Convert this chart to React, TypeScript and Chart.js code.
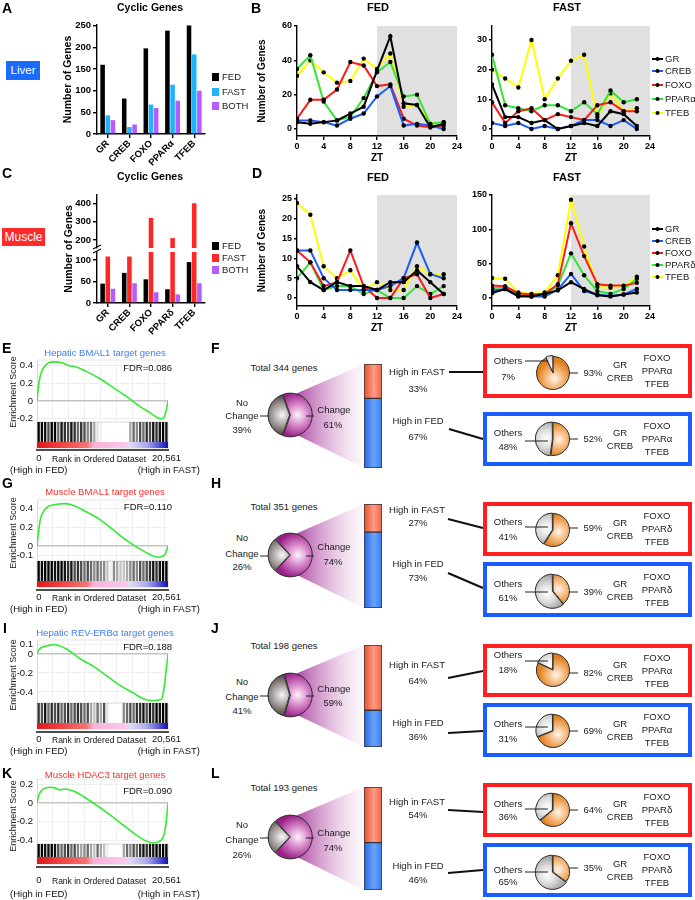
import React, { useEffect, useRef } from "react";
import { Chart, registerables } from "chart.js";

Chart.register(...registerables);
const FONT = "'Liberation Sans', Arial, Helvetica, sans-serif";
Chart.defaults.font.family = FONT;
Chart.defaults.color = "#000";

// ================= DATA =================
const liverFactors = ["GR", "CREB", "FOXO", "PPARα", "TFEB"];
const muscleFactors = ["GR", "CREB", "FOXO", "PPARδ", "TFEB"];
const conditionNames = ["FED", "FAST", "BOTH"];

const liverCyclicFED = [160, 82, 198, 239, 251];
const liverCyclicFAST = [43, 16, 68, 114, 184];
const liverCyclicBOTH = [32, 22, 60, 77, 100];
const muscleCyclicFED = [45, 70, 55, 32, 95];
const muscleCyclicFAST = [108, 108, 320, 210, 400];
const muscleCyclicBOTH = [33, 46, 25, 20, 46];
const liverCyclicTicks = [0, 50, 100, 150, 200, 250];
const muscleCyclicTicksLow = [0, 50, 100];
const muscleCyclicTicksHigh = [200, 300, 400];

const ztHours = [0, 2, 4, 6, 8, 10, 12, 14, 16, 18, 20, 22];
const ztTicks = [0, 4, 8, 12, 16, 20, 24];

const liverFedGR = [4, 3, 4, 5, 9, 13, 34, 54, 15, 14, 1, 3];
const liverFedCREB = [5, 5, 4, 2, 6, 9, 19, 25, 2, 3, 2, 0];
const liverFedFOXO = [6, 17, 17, 23, 39, 37, 25, 26, 6, 2, 1, 2];
const liverFedPPARa = [35, 43, 16, 5, 7, 18, 33, 39, 19, 20, 3, 4];
const liverFedTFEB = [31, 40, 33, 27, 28, 41, 35, 44, 13, 14, 3, 4];
const liverFedTicks = [0, 20, 40, 60];

const liverFastGR = [15, 4, 4, 2, 3, 0, 1, 2, 1, 6, 5, 1];
const liverFastCREB = [2, 1, 2, 0, 1, 0, 1, 3, 3, 1, 3, 0];
const liverFastFOXO = [9, 2, 6, 7, 3, 5, 4, 3, 8, 9, 6, 6];
const liverFastPPARa = [25, 8, 7, 6, 8, 8, 6, 9, 5, 13, 9, 10];
const liverFastTFEB = [20, 17, 14, 30, 10, 17, 23, 25, 4, 12, 6, 7];
const liverFastTicks = [0, 10, 20, 30];

const muscleFedGR = [8, 4, 2, 4, 3, 3, 2, 4, 4, 7, 4, 1];
const muscleFedCREB = [12, 12, 5, 2, 2, 2, 2, 3, 5, 14, 6, 5];
const muscleFedFOXO = [12, 9, 3, 4, 12, 3, 0, 0, 5, 6, 0, 1];
const muscleFedPPARd = [5, 9, 2, 3, 3, 1, 2, 0, 0, 3, 1, 3];
const muscleFedTFEB = [24, 21, 8, 5, 7, 2, 4, 2, 2, 8, 6, 6];
const muscleFedTicks = [0, 5, 10, 15, 20, 25];

const muscleFastGR = [7, 13, 3, 2, 6, 11, 23, 13, 4, 2, 5, 8];
const muscleFastCREB = [11, 13, 2, 2, 2, 12, 35, 10, 5, 3, 5, 13];
const muscleFastFOXO = [18, 17, 7, 5, 6, 20, 109, 61, 20, 18, 18, 22];
const muscleFastPPARd = [14, 16, 5, 4, 4, 18, 65, 33, 10, 6, 13, 28];
const muscleFastTFEB = [29, 28, 8, 6, 8, 33, 143, 75, 16, 15, 17, 31];
const muscleFastTicks = [0, 50, 100, 150];

const gseaTitles = ["Hepatic BMAL1 target genes", "Muscle BMAL1 target genes", "Hepatic REV-ERBα target genes", "Muscle HDAC3 target genes"];
const gseaFDR = ["FDR=0.086", "FDR=0.110", "FDR=0.188", "FDR=0.090"];
const gseaRankMax = 20561;
const gseaGridRanks = [2500, 5000, 7500, 10000, 12500, 15000, 17500, 20000];

const gseaRanksE = [0, 156, 416, 781, 1301, 1822, 2603, 3904, 4945, 6246, 7808, 9890, 11972, 14054, 16136, 17698, 18999, 19520, 19936, 20301, 20561];
const gseaScoresE = [0, 0.12, 0.25, 0.34, 0.4, 0.43, 0.44, 0.43, 0.4, 0.38, 0.33, 0.25, 0.15, 0.05, -0.06, -0.13, -0.19, -0.2, -0.18, -0.1, 0];
const gseaRanksG = [0, 156, 520, 1041, 1822, 2863, 4424, 5725, 7808, 9890, 11972, 14054, 16136, 17698, 18999, 19676, 20144, 20561];
const gseaScoresG = [0, 0.1, 0.28, 0.37, 0.42, 0.44, 0.45, 0.43, 0.36, 0.28, 0.17, 0.06, -0.03, -0.09, -0.12, -0.11, -0.08, 0];
const gseaRanksI = [0, 260, 781, 1822, 2603, 3383, 4685, 6767, 8849, 10931, 13013, 15095, 16656, 18218, 19520, 19884, 20196, 20561];
const gseaScoresI = [0, 0.04, 0.07, 0.09, 0.1, 0.09, 0.05, -0.05, -0.13, -0.23, -0.33, -0.41, -0.47, -0.49, -0.48, -0.38, -0.22, 0];
const gseaRanksK = [0, 260, 781, 2082, 2863, 3644, 4164, 5726, 7287, 8849, 10931, 13013, 15095, 17177, 18218, 19259, 19780, 20196, 20561];
const gseaScoresK = [0, 0.08, 0.14, 0.17, 0.16, 0.14, 0.15, 0.13, 0.07, 0, -0.1, -0.21, -0.32, -0.41, -0.43, -0.41, -0.37, -0.25, 0];
const gseaTicksE = [0.4, 0.2, 0, -0.2];
const gseaTicksG = [0.4, 0.2, 0, -0.1];
const gseaTicksI = [0.1, 0, -0.2, -0.4];
const gseaTicksK = [0.2, 0, -0.2, -0.4];

// hit density of the barcode, 40 rank bins each
const barcodeE = [0.9, 0.85, 0.8, 0.6, 0.9, 0.85, 0.5, 0.8, 0.7, 0.6, 0.8, 0.7, 0.5, 0.7, 0.6, 0.4, 0.5, 0.3, 0.1, 0.05, 0, 0, 0, 0, 0, 0, 0, 0, 0.3, 0.5, 0.4, 0.6, 0.5, 0.7, 0.6, 0.8, 0.7, 0.8, 0.9, 0.8];
const barcodeG = [0.95, 0.9, 0.9, 0.85, 0.9, 0.8, 0.85, 0.9, 0.8, 0.7, 0.8, 0.6, 0.7, 0.6, 0.5, 0.6, 0.5, 0.4, 0.5, 0.4, 0.4, 0.2, 0.05, 0.4, 0.3, 0.2, 0.2, 0.3, 0.4, 0.5, 0.4, 0.6, 0.5, 0.6, 0.7, 0.8, 0.7, 0.8, 0.9, 0.9];
const barcodeI = [0.7, 0.6, 0.8, 0.5, 0.7, 0.6, 0.7, 0.5, 0.6, 0.7, 0.5, 0.6, 0.7, 0.6, 0.5, 0.6, 0.3, 0.2, 0.5, 0.3, 0.6, 0.1, 0, 0, 0, 0, 0.4, 0.5, 0.6, 0.5, 0.7, 0.7, 0.8, 0.6, 0.8, 0.7, 0.9, 0.8, 0.9, 1];
const barcodeK = [0.9, 0.9, 0.8, 0.8, 0.9, 0.8, 0.6, 0.5, 0.6, 0.7, 0.5, 0.6, 0.4, 0.3, 0.4, 0.5, 0.3, 0.2, 0.5, 0.3, 0.2, 0.05, 0, 0, 0, 0, 0.3, 0.5, 0.4, 0.6, 0.5, 0.7, 0.8, 0.7, 0.8, 0.8, 0.9, 0.8, 0.9, 1];

const summaryTotals = [344, 351, 198, 193];
const summaryChangePct = [61, 74, 59, 74];
const summaryNoChangePct = [39, 26, 41, 26];
const summaryHighFastPct = [33, 27, 64, 54];
const summaryHighFedPct = [67, 73, 36, 46];
const summaryFastTargetPct = [93, 59, 82, 64];
const summaryFastOthersPct = [7, 41, 18, 36];
const summaryFedTargetPct = [52, 39, 69, 35];
const summaryFedOthersPct = [48, 61, 31, 65];
const summaryFactorSets = [["FOXO", "PPARα", "TFEB"], ["FOXO", "PPARδ", "TFEB"], ["FOXO", "PPARα", "TFEB"], ["FOXO", "PPARδ", "TFEB"]];
const summaryCommonFactors = ["GR", "CREB"];

// ================= STYLE / LAYOUT =================
const seriesColors = ["#000000", "#1a5cff", "#ff1a1a", "#33e633", "#ffff00"];
const fedColor = "#000000";
const liverFastColor = "#1eb2ff";
const muscleFastColor = "#ff2626";
const bothColor = "#b65cff";
const blueTitle = "#3b7cff";
const redTitle = "#ff2b2b";
const gseaGradient = "linear-gradient(to right, #e01818 0%, #ee4242 18%, #f47474 38%, #f8b2d8 43%, #f8c8ea 67%, #dedcf6 71%, #aaaaea 84%, #5656d6 93%, #1010b0 100%)";

const changeStops = [[0, "#fff3fb"], [0.45, "#d98ccc"], [1, "#9a1e88"]];
const noChangeStops = [[0, "#f6f6f6"], [0.5, "#9c9492"], [1, "#3a302e"]];
const orangeStops = [[0, "#fff6ec"], [0.45, "#f6be86"], [1, "#e0801e"]];
const othersStops = [[0, "#ffffff"], [0.5, "#dedede"], [1, "#a8a8a8"]];
const redBarStops = [[0, "#e2502e"], [0.55, "#ff9c84"], [1, "#f06448"]];
const blueBarStops = [[0, "#2566e0"], [0.55, "#6aa4ff"], [1, "#3a7af0"]];

const gseaLayout = [
  { titleY: 353, titleC: blueTitle, fdrY: 368, top: 360, bot: 422, barBot: 442, gradBot: 448, axisY: 450, labY: 458, highY: 470, esY: 392, min: -0.236, max: 0.461 },
  { titleY: 492, titleC: redTitle, fdrY: 507, top: 500, bot: 561, barBot: 581, gradBot: 587, axisY: 590, labY: 597, highY: 609, esY: 533, min: -0.159, max: 0.488 },
  { titleY: 633, titleC: blueTitle, fdrY: 647, top: 640, bot: 703, barBot: 723, gradBot: 729, axisY: 732, labY: 739, highY: 751, esY: 675, min: -0.516, max: 0.147 },
  { titleY: 775, titleC: redTitle, fdrY: 791, top: 779, bot: 844, barBot: 857, gradBot: 864, axisY: 867, labY: 880, highY: 894, esY: 816, min: -0.441, max: 0.258 },
];
const gseaSeries = [
  { ranks: gseaRanksE, es: gseaScoresE, ticks: gseaTicksE, bars: barcodeE },
  { ranks: gseaRanksG, es: gseaScoresG, ticks: gseaTicksG, bars: barcodeG },
  { ranks: gseaRanksI, es: gseaScoresI, ticks: gseaTicksI, bars: barcodeI },
  { ranks: gseaRanksK, es: gseaScoresK, ticks: gseaTicksK, bars: barcodeK },
];

const rowLayout = [
  { total: 368, pie: 415, nc: [403, 416, 430], ch: [410, 425], bar: [364, 468], fastT: [372, 389], fedT: [421, 437], fastLine: [449, 372, 483, 372], fedLine: [449, 429, 483, 439], red: [344, 398], blue: [412, 466], rPie: 373, bPie: 439, rOthers: [361, 377], bOthers: [433, 447], rOthLine: 361, bOthLine: 441, rPct: 373, bPct: 439 },
  { total: 507, pie: 555, nc: [538, 554, 567], ch: [547, 562], bar: [504, 608], fastT: [510, 523], fedT: [564, 578], fastLine: [448, 519, 483, 528], fedLine: [448, 573, 483, 588], red: [502, 556], blue: [562, 617], rPie: 530, bPie: 591, rOthers: [522, 537], bOthers: [584, 598], rOthLine: 527, bOthLine: 592, rPct: 528, bPct: 592 },
  { total: 646, pie: 695, nc: [682, 697, 711], ch: [689, 703], bar: [645, 747], fastT: [665, 681], fedT: [723, 737], fastLine: [448, 678, 483, 671], fedLine: [448, 733, 483, 731], red: [644, 697], blue: [703, 757], rPie: 670, bPie: 731, rOthers: [655, 670], bOthers: [724, 739], rOthLine: 661, bOthLine: 727, rPct: 673, bPct: 731 },
  { total: 788, pie: 837, nc: [825, 840, 855], ch: [833, 848], bar: [787, 890], fastT: [802, 815], fedT: [866, 880], fastLine: [448, 810, 483, 812], fedLine: [448, 873, 483, 870], red: [783, 837], blue: [843, 897], rPie: 810, bPie: 872, rOthers: [804, 817], bOthers: [870, 882], rOthLine: 809, bOthLine: 872, rPct: 810, bPct: 868 },
];

// ================= HELPERS =================
type Rect = { l: number; t: number; w: number; h: number };
type Area = { l: number; t: number; r: number; b: number };

const fixedTicks = (vals: number[]) => (s: any) => { s.ticks = vals.map((v) => ({ value: v })); };
const fixW = (w: number) => (s: any) => { s.width = w; s.paddingTop = 0; s.paddingBottom = 0; };
const fixH = (h: number) => (s: any) => { s.height = h; s.paddingLeft = 0; s.paddingRight = 0; };

const prismGrid = { drawOnChartArea: false, drawTicks: true, tickLength: 4, color: "#000", lineWidth: 1.4 };
const prismBorder = { display: true, color: "#000", width: 1.4 };

function baseOpts(rect: Rect, area: Area, shownX: boolean, shownY: boolean) {
  return {
    responsive: false,
    maintainAspectRatio: false,
    animation: false,
    devicePixelRatio: 1,
    events: [],
    layout: {
      autoPadding: false,
      padding: {
        left: shownY ? 0 : area.l - rect.l,
        top: area.t - rect.t,
        right: rect.l + rect.w - area.r,
        bottom: shownX ? 0 : rect.t + rect.h - area.b,
      },
    },
    plugins: { legend: { display: false }, tooltip: { enabled: false } },
  };
}

const nightShade = {
  id: "nightShade",
  beforeDraw(chart: any, _a: any, opts: any) {
    if (!opts || opts.from == null) return;
    const { ctx, chartArea, scales } = chart;
    const x0 = scales.x.getPixelForValue(opts.from);
    const x1 = scales.x.getPixelForValue(opts.to);
    ctx.save();
    ctx.fillStyle = opts.color;
    ctx.fillRect(x0, chartArea.top, x1 - x0, chartArea.bottom - chartArea.top);
    ctx.restore();
  },
};

function ChartCanvas({ rect, make }: { rect: Rect; make: () => any }) {
  const ref = useRef<HTMLCanvasElement>(null);
  useEffect(() => {
    const c = new Chart(ref.current as HTMLCanvasElement, make());
    return () => c.destroy();
  }, []);
  return <canvas ref={ref} width={rect.w} height={rect.h} style={{ position: "absolute", left: rect.l, top: rect.t, width: rect.w, height: rect.h }} />;
}

function cyclicBars(p: any) {
  const x: any = {
    display: p.showX,
    grid: { ...prismGrid, offset: false },
    border: prismBorder,
    ticks: { minRotation: 45, maxRotation: 45, autoSkip: false, font: { size: 9.5, weight: "bold" }, padding: 0, color: "#000" },
  };
  if (p.showX) x.afterFit = fixH(p.rect.t + p.rect.h - p.area.b);
  return () => ({
    type: "bar",
    data: {
      labels: p.labels,
      datasets: [
        { label: conditionNames[0], data: p.fed, backgroundColor: fedColor },
        { label: conditionNames[1], data: p.fast, backgroundColor: p.fastColor },
        { label: conditionNames[2], data: p.both, backgroundColor: bothColor },
      ],
    },
    options: {
      ...baseOpts(p.rect, p.area, p.showX, true),
      datasets: { bar: { categoryPercentage: 0.72, barPercentage: 0.88, clip: 0 } },
      scales: {
        x,
        y: {
          min: p.min, max: p.max,
          afterBuildTicks: fixedTicks(p.ticks),
          afterFit: fixW(p.area.l - p.rect.l),
          grid: prismGrid, border: prismBorder,
          ticks: { font: { size: 9.5, weight: "bold" }, padding: 2, color: "#000" },
          title: { display: p.yTitle, text: "Number of Genes", color: "#000", font: { size: 10.5, weight: "bold" }, padding: { top: 21.5, bottom: 0 } },
        },
      },
    },
  });
}

function ztLines(p: any) {
  return () => ({
    type: "line",
    data: {
      datasets: p.series.map((s: number[], k: number) => ({
        label: p.names[k],
        data: ztHours.map((z, i) => ({ x: z, y: s[i] })),
        borderColor: seriesColors[k], borderWidth: 2,
        pointRadius: 2.2, pointBackgroundColor: "#000", pointBorderWidth: 0, tension: 0,
      })),
    },
    options: {
      ...baseOpts(p.rect, p.area, true, true),
      plugins: { legend: { display: false }, tooltip: { enabled: false }, nightShade: { from: 12, to: 24, color: "#e0e0e0" } },
      scales: {
        x: {
          type: "linear", min: 0, max: 24,
          afterBuildTicks: fixedTicks(ztTicks),
          afterFit: fixH(p.rect.t + p.rect.h - p.area.b),
          grid: prismGrid, border: prismBorder,
          ticks: { font: { size: 9, weight: "bold" }, padding: 1, color: "#000" },
          title: { display: true, text: "ZT", color: "#000", font: { size: 10, weight: "bold" }, padding: { top: 0, bottom: 1 } },
        },
        y: {
          min: p.min, max: p.max,
          afterBuildTicks: fixedTicks(p.ticks),
          afterFit: fixW(p.area.l - p.rect.l),
          grid: { ...prismGrid, tickLength: 3 }, border: prismBorder,
          ticks: { font: { size: 9, weight: "bold" }, padding: 2, color: "#000" },
          title: { display: p.yTitle, text: "Number of Genes", color: "#000", font: { size: 10, weight: "bold" }, padding: { top: 16, bottom: 0 } },
        },
      },
    },
    plugins: [nightShade],
  });
}

function gseaCurve(rect: Rect, area: Area, ranks: number[], es: number[], min: number, max: number, ticks: number[]) {
  return () => ({
    type: "line",
    data: { datasets: [{ label: "Enrichment Score", data: ranks.map((r, k) => ({ x: r, y: es[k] })), borderColor: "#35ea35", borderWidth: 1.6, pointRadius: 0, cubicInterpolationMode: "monotone", fill: false }] },
    options: {
      ...baseOpts(rect, area, true, true),
      scales: {
        x: {
          type: "linear", min: 0, max: gseaRankMax,
          afterBuildTicks: fixedTicks(gseaGridRanks),
          afterFit: fixH(rect.t + rect.h - area.b),
          ticks: { display: false },
          border: { display: false },
          grid: { color: "#f0f0f0", drawTicks: false, lineWidth: 1 },
        },
        y: {
          min, max,
          afterBuildTicks: fixedTicks(ticks),
          afterFit: fixW(area.l - rect.l),
          border: { display: true, color: "#dadada", width: 1 },
          grid: { drawTicks: false, color: (c: any) => (c.tick && c.tick.value === 0 ? "#c4c4c4" : "#eeeeee"), lineWidth: (c: any) => (c.tick && c.tick.value === 0 ? 1.4 : 1) },
          ticks: { font: { size: 9.5 }, padding: 4, color: "#111", callback: (v: any) => String(v) },
        },
      },
    },
  });
}

function barcodeChart(rect: Rect, area: Area, density: number[]) {
  return () => ({
    type: "bar",
    data: {
      labels: density.map((_, i) => String(i)),
      datasets: [{ label: "hits", data: density.map(() => [0, 1]), backgroundColor: density.map((d) => `rgba(0,0,0,${Math.min(1, d * 1.15)})`), barPercentage: 0.72, categoryPercentage: 1, clip: 0 }],
    },
    options: { ...baseOpts(rect, area, false, false), scales: { x: { display: false }, y: { display: false, min: 0, max: 1 } } },
  });
}

function radialFill(stopsList: any[], values: number[], rotation: number, radius: number) {
  return (ctx: any) => {
    const i = ctx.dataIndex;
    const stops = stopsList[i];
    const chart = ctx.chart;
    const a = chart.chartArea;
    if (!a) return stops[stops.length - 1][1];
    const cx = (a.left + a.right) / 2, cy = (a.top + a.bottom) / 2;
    const total = values.reduce((s, v) => s + v, 0);
    let start = rotation;
    for (let j = 0; j < i; j++) start += (values[j] / total) * 360;
    const mid = ((start + (values[i] / total) * 180 - 90) * Math.PI) / 180;
    const gx = cx + Math.cos(mid) * radius * 0.35, gy = cy + Math.sin(mid) * radius * 0.35;
    const g = chart.ctx.createRadialGradient(gx, gy, 0, gx, gy, radius * 1.05);
    stops.forEach((s: any) => g.addColorStop(s[0], s[1]));
    return g;
  };
}

function pieChart(values: number[], labels: string[], stops: any[], rotation: number, radius: number, offsets: number[]) {
  return () => ({
    type: "pie",
    data: { labels, datasets: [{ data: values, backgroundColor: radialFill(stops, values, rotation, radius), borderColor: "#2b2b2b", borderWidth: 1, offset: offsets, rotation, radius }] },
    options: {
      responsive: false, animation: false, devicePixelRatio: 1, events: [], rotation, radius,
      layout: { autoPadding: false, padding: 0 },
      plugins: { legend: { display: false }, tooltip: { enabled: false } },
    },
  });
}

function linFill(stops: any[]) {
  return (ctx: any) => {
    const chart = ctx.chart;
    const a = chart.chartArea;
    if (!a) return stops[0][1];
    const g = chart.ctx.createLinearGradient(a.left, 0, a.right, 0);
    stops.forEach((s: any) => g.addColorStop(s[0], s[1]));
    return g;
  };
}

function splitBar(rect: Rect, area: Area, fed: number, fast: number) {
  return () => ({
    type: "bar",
    data: {
      labels: ["genes"],
      datasets: [
        { label: "High in FED", data: [fed], backgroundColor: linFill(blueBarStops) },
        { label: "High in FAST", data: [fast], backgroundColor: linFill(redBarStops) },
      ],
    },
    options: {
      ...baseOpts(rect, area, false, false),
      datasets: { bar: { barPercentage: 1, categoryPercentage: 1, borderWidth: 1, borderColor: "#333", borderSkipped: false, clip: 0 } },
      scales: { x: { display: false, stacked: true }, y: { display: false, stacked: true, min: 0, max: 100 } },
    },
  });
}

const T = ({ x, y, s = 9.5, b = false, c = "#1a1a1a", a = "l", children }: any) => {
  const tx = a === "c" ? "-50%" : a === "r" ? "-100%" : "0";
  return (
    <div style={{ position: "absolute", left: x, top: y, transform: `translate(${tx}, -50%)`, fontSize: s, fontWeight: b ? 700 : 400, color: c, whiteSpace: "nowrap", lineHeight: 1 }}>
      {children}
    </div>
  );
};

const VT = ({ x, y, s = 9, b = false, c = "#222", children }: any) => (
  <div style={{ position: "absolute", left: x, top: y, transform: "translate(-50%, -50%) rotate(-90deg)", fontSize: s, fontWeight: b ? 700 : 400, whiteSpace: "nowrap", lineHeight: 1, color: c }}>
    {children}
  </div>
);

// ================= PANELS =================
function LegendSquares({ y, fastColor }: { y: number[]; fastColor: string }) {
  const cols = [fedColor, fastColor, bothColor];
  return (
    <>
      {conditionNames.map((n, i) => (
        <React.Fragment key={n}>
          <div style={{ position: "absolute", left: 212, top: y[i] - 4, width: 7, height: 8, background: cols[i] }} />
          <T x={222} y={y[i]}>{n}</T>
        </React.Fragment>
      ))}
    </>
  );
}

function GseaPanel({ i }: { i: number }) {
  const G = gseaLayout[i];
  const S = gseaSeries[i];
  const cRect = { l: 0, t: G.top - 8, w: 175, h: G.bot - G.top + 10 };
  const cArea = { l: 37, t: G.top, r: 168, b: G.bot };
  const bRect = { l: 30, t: G.bot, w: 145, h: G.barBot - G.bot };
  const bArea = { l: 37, t: G.bot, r: 168, b: G.barBot };
  return (
    <>
      <ChartCanvas rect={cRect} make={gseaCurve(cRect, cArea, S.ranks, S.es, G.min, G.max, S.ticks)} />
      <ChartCanvas rect={bRect} make={barcodeChart(bRect, bArea, S.bars)} />
      <div style={{ position: "absolute", left: 37, top: G.barBot, width: 131, height: G.gradBot - G.barBot, background: gseaGradient }} />
      <VT x={13} y={G.esY} s={9}>Enrichment Score</VT>
      <T x={105} y={G.titleY} a="c" c={G.titleC}>{gseaTitles[i]}</T>
      <T x={172} y={G.fdrY} a="r" c="#111">{gseaFDR[i]}</T>
      <T x={39} y={G.labY} a="c" c="#111">0</T>
      <T x={52} y={G.labY + 0.5} s={8.5} c="#111">Rank in Ordered Dataset</T>
      <T x={152} y={G.labY} c="#111">20,561</T>
      <T x={10} y={G.highY} c="#111">(High in FED)</T>
      <T x={200} y={G.highY} a="r" c="#111">(High in FAST)</T>
    </>
  );
}

function SummaryRow({ i }: { i: number }) {
  const L = rowLayout[i];
  const change = summaryChangePct[i], noChange = summaryNoChangePct[i];
  const bigVals = [change, noChange];
  const bigRot = 90 - (change / (change + noChange)) * 180;
  const fastVals = [summaryFastTargetPct[i], summaryFastOthersPct[i]];
  const fedVals = [summaryFedTargetPct[i], summaryFedOthersPct[i]];
  const barRect = { l: 362, t: L.bar[0] - 2, w: 22, h: L.bar[1] - L.bar[0] + 4 };
  const barArea = { l: 364, t: L.bar[0], r: 382, b: L.bar[1] };
  const rM = (L.red[0] + L.red[1]) / 2;
  const bM = (L.blue[0] + L.blue[1]) / 2;
  const factors = summaryFactorSets[i];
  const boxContent = (M: number, oth: number[], othPct: number, pctY: number, pct: number) => (
    <>
      <T x={508} y={oth[0]} a="c">Others</T>
      <T x={508} y={oth[1]} a="c">{othPct}%</T>
      <T x={593} y={pctY} a="c">{pct}%</T>
      <T x={620} y={M - 6} a="c">{summaryCommonFactors[0]}</T>
      <T x={620} y={M + 7} a="c">{summaryCommonFactors[1]}</T>
      <T x={657} y={M - 13} a="c">{factors[0]}</T>
      <T x={657} y={M} a="c">{factors[1]}</T>
      <T x={657} y={M + 13} a="c">{factors[2]}</T>
    </>
  );
  return (
    <>
      <ChartCanvas rect={{ l: 260, t: L.pie - 30, w: 60, h: 60 }} make={pieChart(bigVals, ["Change", "No Change"], [changeStops, noChangeStops], bigRot, 21.5, [1.5, 1.5])} />
      <ChartCanvas rect={barRect} make={splitBar(barRect, barArea, summaryHighFedPct[i], summaryHighFastPct[i])} />
      <ChartCanvas rect={{ l: 528, t: L.rPie - 25, w: 50, h: 50 }} make={pieChart(fastVals, ["Target", "Others"], [orangeStops, othersStops], 0, 16.5, [0, 2.5])} />
      <ChartCanvas rect={{ l: 528, t: L.bPie - 25, w: 50, h: 50 }} make={pieChart(fedVals, ["Target", "Others"], [orangeStops, othersStops], 0, 16.5, [0, 2.5])} />
      <div style={{ position: "absolute", left: 483, top: L.red[0], width: 209, height: L.red[1] - L.red[0], border: "4px solid #ff1f1f", boxSizing: "border-box" }} />
      <div style={{ position: "absolute", left: 483, top: L.blue[0], width: 209, height: L.blue[1] - L.blue[0], border: "4px solid #1a5cff", boxSizing: "border-box" }} />
      <T x={284} y={L.total} a="c">Total {summaryTotals[i]} genes</T>
      <T x={242} y={L.nc[0]} a="c">No</T>
      <T x={242} y={L.nc[1]} a="c">Change</T>
      <T x={242} y={L.nc[2]} a="c">{noChange}%</T>
      <T x={334} y={L.ch[0]} a="c">Change</T>
      <T x={333} y={L.ch[1]} a="c">{change}%</T>
      <T x={417} y={L.fastT[0]} a="c">High in FAST</T>
      <T x={418} y={L.fastT[1]} a="c">{summaryHighFastPct[i]}%</T>
      <T x={418} y={L.fedT[0]} a="c">High in FED</T>
      <T x={418} y={L.fedT[1]} a="c">{summaryHighFedPct[i]}%</T>
      {boxContent(rM, L.rOthers, summaryFastOthersPct[i], L.rPct, summaryFastTargetPct[i])}
      {boxContent(bM, L.bOthers, summaryFedOthersPct[i], L.bPct, summaryFedTargetPct[i])}
    </>
  );
}

function Overlay() {
  const legendRows = (ys: number[]) =>
    ys.map((y, k) => (
      <g key={k}>
        <line x1={652} x2={663} y1={y} y2={y} stroke={seriesColors[k]} strokeWidth={2} />
        <circle cx={657.5} cy={y} r={2} fill="#000" />
      </g>
    ));
  return (
    <svg width={695} height={900} style={{ position: "absolute", left: 0, top: 0 }}>
      <defs>
        <linearGradient id="fan" x1="0" x2="1" y1="0" y2="0">
          <stop offset="0" stopColor="#a4309a" stopOpacity="0.95" />
          <stop offset="0.5" stopColor="#c67cbe" stopOpacity="0.55" />
          <stop offset="1" stopColor="#ead0e6" stopOpacity="0.15" />
        </linearGradient>
      </defs>
      {rowLayout.map((L, i) => (
        <g key={i}>
          <polygon points={`293,${L.pie - 20} 364,${L.bar[0]} 364,${L.bar[1]} 295,${L.pie + 19}`} fill="url(#fan)" />
          <line x1={L.fastLine[0]} y1={L.fastLine[1]} x2={L.fastLine[2]} y2={L.fastLine[3]} stroke="#111" strokeWidth={2.2} />
          <line x1={L.fedLine[0]} y1={L.fedLine[1]} x2={L.fedLine[2]} y2={L.fedLine[3]} stroke="#111" strokeWidth={2.2} />
        </g>
      ))}
      {legendRows([59, 71, 85, 99, 113])}
      {legendRows([229, 241, 253, 265, 277])}
      <line x1={93} y1={249} x2={101} y2={245} stroke="#000" strokeWidth={1.2} />
      <line x1={93} y1={253} x2={101} y2={249} stroke="#000" strokeWidth={1.2} />
      {gseaLayout.map((G, i) => (
        <g key={i}>
          <rect x={37} y={G.bot} width={131} height={G.gradBot - G.bot} fill="none" stroke="#d0d0d0" strokeWidth={0.8} />
          <line x1={37} x2={168} y1={G.top} y2={G.top} stroke="#e0e0e0" strokeWidth={0.8} />
          <line x1={36} x2={169} y1={G.axisY} y2={G.axisY} stroke="#111" strokeWidth={1.6} />
        </g>
      ))}
    </svg>
  );
}

function OverlayTicks() {
  return (
    <svg width={695} height={900} style={{ position: "absolute", left: 0, top: 0 }}>
      {rowLayout.map((L, i) => (
        <g key={i} stroke="#222" strokeWidth={1}>
          <line x1={260} x2={269} y1={L.pie + 1} y2={L.pie + 1} />
          <line x1={306} x2={314} y1={L.pie + 1} y2={L.pie + 1} />
          <line x1={525} x2={548} y1={L.rOthLine} y2={L.rOthLine} />
          <line x1={525} x2={548} y1={L.bOthLine} y2={L.bOthLine} />
          <line x1={569} x2={578} y1={L.rPct} y2={L.rPct} />
          <line x1={569} x2={578} y1={L.bPct} y2={L.bPct} />
        </g>
      ))}
    </svg>
  );
}

export default function App() {
  useEffect(() => {
    document.body.style.margin = "0";
  }, []);

  const aRect = { l: 40, t: 15, w: 175, h: 160 }, aArea = { l: 97, t: 25, r: 205, b: 134 };
  const cTopRect = { l: 40, t: 185, w: 175, h: 65 }, cTopArea = { l: 97, t: 195, r: 205, b: 248 };
  const cLowRect = { l: 40, t: 245, w: 175, h: 95 }, cLowArea = { l: 97, t: 252, r: 205, b: 303 };
  const bFedRect = { l: 240, t: 15, w: 225, h: 150 }, bFedArea = { l: 297, t: 26, r: 457, b: 136 };
  const bFastRect = { l: 465, t: 15, w: 195, h: 150 }, bFastArea = { l: 492, t: 26, r: 650, b: 136 };
  const dFedRect = { l: 240, t: 185, w: 225, h: 150 }, dFedArea = { l: 297, t: 195, r: 457, b: 306 };
  const dFastRect = { l: 465, t: 185, w: 195, h: 150 }, dFastArea = { l: 492, t: 195, r: 650, b: 306 };

  return (
    <div style={{ position: "absolute", left: 0, top: 0, width: 695, height: 900, background: "#fff", overflow: "hidden", fontFamily: FONT }}>
      <Overlay />

      {/* A */}
      <ChartCanvas rect={aRect} make={cyclicBars({ rect: aRect, area: aArea, labels: liverFactors, fed: liverCyclicFED, fast: liverCyclicFAST, both: liverCyclicBOTH, fastColor: liverFastColor, min: 0, max: 252, ticks: liverCyclicTicks, showX: true, yTitle: true })} />
      {/* C */}
      <ChartCanvas rect={cTopRect} make={cyclicBars({ rect: cTopRect, area: cTopArea, labels: muscleFactors, fed: muscleCyclicFED, fast: muscleCyclicFAST, both: muscleCyclicBOTH, fastColor: muscleFastColor, min: 156, max: 445, ticks: muscleCyclicTicksHigh, showX: false, yTitle: false })} />
      <ChartCanvas rect={cLowRect} make={cyclicBars({ rect: cLowRect, area: cLowArea, labels: muscleFactors, fed: muscleCyclicFED, fast: muscleCyclicFAST, both: muscleCyclicBOTH, fastColor: muscleFastColor, min: 0, max: 118.5, ticks: muscleCyclicTicksLow, showX: true, yTitle: false })} />
      {/* B */}
      <ChartCanvas rect={bFedRect} make={ztLines({ rect: bFedRect, area: bFedArea, series: [liverFedGR, liverFedCREB, liverFedFOXO, liverFedPPARa, liverFedTFEB], names: liverFactors, min: -4.08, max: 60, ticks: liverFedTicks, yTitle: true })} />
      <ChartCanvas rect={bFastRect} make={ztLines({ rect: bFastRect, area: bFastArea, series: [liverFastGR, liverFastCREB, liverFastFOXO, liverFastPPARa, liverFastTFEB], names: liverFactors, min: -2.36, max: 34.7, ticks: liverFastTicks, yTitle: false })} />
      {/* D */}
      <ChartCanvas rect={dFedRect} make={ztLines({ rect: dFedRect, area: dFedArea, series: [muscleFedGR, muscleFedCREB, muscleFedFOXO, muscleFedPPARd, muscleFedTFEB], names: muscleFactors, min: -2.02, max: 26, ticks: muscleFedTicks, yTitle: true })} />
      <ChartCanvas rect={dFastRect} make={ztLines({ rect: dFastRect, area: dFastArea, series: [muscleFastGR, muscleFastCREB, muscleFastFOXO, muscleFastPPARd, muscleFastTFEB], names: muscleFactors, min: -11.7, max: 150, ticks: muscleFastTicks, yTitle: false })} />

      {[0, 1, 2, 3].map((i) => <GseaPanel key={"g" + i} i={i} />)}
      {[0, 1, 2, 3].map((i) => <SummaryRow key={"s" + i} i={i} />)}
      <OverlayTicks />

      {/* panel letters */}
      {[["A", 2, 8], ["B", 251, 8], ["C", 2, 173], ["D", 252, 173], ["E", 2, 348], ["F", 211, 348], ["G", 2, 483], ["H", 211, 483], ["I", 3, 628], ["J", 211, 628], ["K", 2, 773], ["L", 211, 773]].map(([l, x, y]: any) => (
        <T key={l} x={x} y={y} s={14} b c="#000">{l}</T>
      ))}

      {/* titles */}
      <T x={150} y={7} s={10.5} b a="c" c="#000">Cyclic Genes</T>
      <T x={150} y={176} s={10.5} b a="c" c="#000">Cyclic Genes</T>
      <T x={378} y={7} s={11} b a="c" c="#000">FED</T>
      <T x={567} y={7} s={11} b a="c" c="#000">FAST</T>
      <T x={378} y={177} s={11} b a="c" c="#000">FED</T>
      <T x={567} y={177} s={11} b a="c" c="#000">FAST</T>
      <VT x={68} y={249} s={10.5} b c="#000">Number of Genes</VT>

      {/* tissue tags */}
      <div style={{ position: "absolute", left: 6, top: 61, width: 34, height: 19, background: "#1a6cff", color: "#fff", fontSize: 11.5, lineHeight: "19px", textAlign: "center" }}>Liver</div>
      <div style={{ position: "absolute", left: 2, top: 228, width: 43, height: 18, background: "#ff2a2a", color: "#fff", fontSize: 12, lineHeight: "18px", textAlign: "center" }}>Muscle</div>

      <LegendSquares y={[77, 92, 106]} fastColor={liverFastColor} />
      <LegendSquares y={[246, 258, 270]} fastColor={muscleFastColor} />

      {liverFactors.map((n, k) => <T key={"lb" + k} x={665} y={[59, 71, 85, 99, 113][k]}>{n}</T>)}
      {muscleFactors.map((n, k) => <T key={"ld" + k} x={665} y={[229, 241, 253, 265, 277][k]}>{n}</T>)}
    </div>
  );
}
